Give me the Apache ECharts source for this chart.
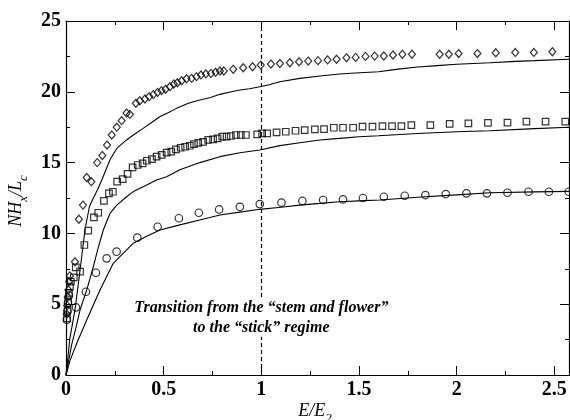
<!DOCTYPE html>
<html>
<head>
<meta charset="utf-8">
<script src="https://cdn.jsdelivr.net/npm/echarts@6/dist/echarts.min.js"></script>
<style>
  html, body { margin: 0; padding: 0; background: #fff; }
  #chart { width: 570px; height: 420px; }
</style>
</head>
<body>
<div id="chart"></div>
<script>
// axis ranges / ticks
const xMin = 0, xMax = 2.575, xStep = 0.5;
const yMin = 0, yMax = 25, yStep = 5;

// open diamonds (upper data set)
const diamonds = [
  [0.004, 4.3], [0.006, 4.9], [0.009, 5.5], [0.012, 6.0], [0.016, 6.6], [0.02, 7.0],
  [0.046, 8.0], [0.066, 11.0], [0.087, 12.0], [0.106, 13.95], [0.13, 13.65],
  [0.16, 15.0], [0.186, 15.5], [0.21, 16.24], [0.234, 16.95], [0.26, 17.5],
  [0.285, 17.96], [0.31, 18.5], [0.327, 18.4], [0.358, 19.19], [0.378, 19.37],
  [0.404, 19.49], [0.426, 19.66], [0.447, 19.8], [0.469, 19.96], [0.489, 20.08],
  [0.51, 20.18], [0.532, 20.36], [0.552, 20.55], [0.57, 20.64], [0.592, 20.78],
  [0.617, 20.92], [0.643, 20.95], [0.668, 21.07], [0.691, 21.19], [0.716, 21.26],
  [0.742, 21.3], [0.766, 21.38], [0.788, 21.47], [0.808, 21.47], [0.856, 21.59],
  [0.907, 21.7], [0.955, 21.77], [0.997, 21.89], [1.049, 21.96], [1.095, 22.0],
  [1.146, 22.05], [1.193, 22.12], [1.24, 22.17], [1.29, 22.2], [1.339, 22.25],
  [1.385, 22.3], [1.436, 22.4], [1.483, 22.43], [1.533, 22.5], [1.58, 22.52],
  [1.627, 22.53], [1.674, 22.6], [1.722, 22.65], [1.771, 22.65], [1.913, 22.65],
  [1.96, 22.65], [2.01, 22.7], [2.106, 22.7], [2.2, 22.76], [2.3, 22.78],
  [2.395, 22.78], [2.49, 22.83]
];

// open squares (middle data set)
const squares = [
  [0.005, 4.0], [0.008, 4.6], [0.011, 5.2], [0.015, 5.8], [0.02, 6.24], [0.025, 6.6],
  [0.04, 6.9], [0.05, 7.6], [0.072, 7.3], [0.094, 9.18], [0.114, 10.19],
  [0.143, 11.13], [0.165, 11.46], [0.194, 12.29], [0.22, 12.83], [0.24, 12.94],
  [0.262, 13.65], [0.29, 13.84], [0.315, 14.2], [0.341, 14.66], [0.367, 14.83],
  [0.392, 14.95], [0.414, 15.13], [0.44, 15.25], [0.464, 15.42], [0.49, 15.54],
  [0.515, 15.7], [0.539, 15.77], [0.563, 15.94], [0.587, 16.05], [0.61, 16.12],
  [0.634, 16.19], [0.655, 16.31], [0.677, 16.4], [0.702, 16.47], [0.728, 16.6],
  [0.753, 16.64], [0.776, 16.71], [0.8, 16.83], [0.822, 16.83], [0.844, 16.88],
  [0.87, 16.95], [0.895, 16.95], [0.921, 16.95], [0.979, 17.0], [1.004, 17.07],
  [1.03, 17.07], [1.078, 17.14], [1.125, 17.18], [1.175, 17.25], [1.222, 17.3],
  [1.274, 17.35], [1.321, 17.37], [1.371, 17.46], [1.418, 17.46], [1.47, 17.46],
  [1.518, 17.54], [1.569, 17.54], [1.62, 17.58], [1.669, 17.58], [1.717, 17.58],
  [1.768, 17.65], [1.865, 17.65], [1.964, 17.73], [2.06, 17.77], [2.16, 17.8],
  [2.26, 17.83], [2.357, 17.89], [2.455, 17.89], [2.556, 17.89]
];

// open circles (lower data set)
const circles = [
  [0.004, 3.9], [0.007, 4.5], [0.01, 5.1], [0.015, 5.6],
  [0.051, 4.78], [0.102, 5.88], [0.153, 7.22], [0.208, 8.24], [0.259, 8.71],
  [0.365, 9.7], [0.469, 10.47], [0.578, 11.07], [0.68, 11.46], [0.784, 11.69],
  [0.89, 11.88], [0.992, 12.07], [1.103, 12.17], [1.21, 12.29], [1.316, 12.36],
  [1.418, 12.4], [1.52, 12.5], [1.627, 12.59], [1.734, 12.66], [1.84, 12.71],
  [1.944, 12.78], [2.05, 12.83], [2.155, 12.83], [2.26, 12.87], [2.368, 12.94],
  [2.472, 12.94], [2.574, 12.94]
];

// solid curves (theory)
const curveUpper = [
  [0, 0], [0.02, 2.6], [0.046, 4.6], [0.072, 7.4], [0.097, 10.24], [0.12, 11.9],
  [0.14, 12.5], [0.162, 13.1], [0.187, 13.9], [0.225, 15.2], [0.26, 16.0],
  [0.31, 16.6], [0.35, 17.0], [0.395, 17.42], [0.44, 17.85], [0.48, 18.24],
  [0.52, 18.5], [0.566, 18.83], [0.626, 19.19], [0.685, 19.42], [0.74, 19.6],
  [0.788, 19.82], [0.84, 19.98], [0.89, 20.13], [0.94, 20.22], [0.992, 20.36],
  [1.04, 20.5], [1.095, 20.71], [1.197, 20.95], [1.3, 21.12], [1.4, 21.26],
  [1.504, 21.35], [1.6, 21.42], [1.7, 21.6], [1.8, 21.75], [1.9, 21.85],
  [2.0, 21.95], [2.17, 22.05], [2.3, 22.15], [2.4, 22.2], [2.575, 22.3]
];
const curveMiddle = [
  [0, 0], [0.03, 2.2], [0.05, 3.3], [0.072, 4.6], [0.106, 6.0], [0.14, 7.65],
  [0.165, 9.0], [0.191, 10.24], [0.225, 11.41], [0.26, 12.0], [0.31, 12.59],
  [0.35, 13.0], [0.395, 13.3], [0.464, 13.77], [0.515, 14.0], [0.583, 14.5],
  [0.685, 15.0], [0.788, 15.42], [0.89, 15.7], [0.992, 15.89], [1.095, 16.2],
  [1.197, 16.4], [1.3, 16.6], [1.4, 16.71], [1.5, 16.83], [1.6, 16.9],
  [1.8, 17.05], [2.0, 17.18], [2.17, 17.25], [2.4, 17.4], [2.575, 17.5]
];
const curveLower = [
  [0, 0], [0.02, 1.0], [0.055, 2.24], [0.106, 3.88], [0.174, 6.0], [0.242, 7.89],
  [0.276, 8.36], [0.344, 9.3], [0.413, 9.8], [0.481, 10.24], [0.583, 10.6],
  [0.685, 10.95], [0.788, 11.3], [0.89, 11.5], [0.992, 11.7], [1.1, 11.85],
  [1.197, 12.0], [1.3, 12.12], [1.4, 12.24], [1.5, 12.3], [1.606, 12.36],
  [1.8, 12.55], [2.0, 12.72], [2.17, 12.87], [2.4, 12.93], [2.575, 12.97]
];

// dashed marker of the transition and its caption
const transitionX = 1;
const dashGap = [2.7, 5.5];
const captionLines = ['Transition from the \u201cstem and flower\u201d', 'to the \u201cstick\u201d regime'];
const captionY = [4.73, 3.32];

const SERIF = '"Liberation Serif", "DejaVu Serif", "Times New Roman", serif';

const chart = echarts.init(document.getElementById('chart'));

function axisBase(show, showMax) {
  return {
    axisLine: { show: true, onZero: false, lineStyle: { color: '#000', width: 1.2 } },
    axisTick: { show: true, inside: true, length: 9, lineStyle: { color: '#000', width: 1 } },
    minorTick: { show: true, splitNumber: 2, length: 4, lineStyle: { color: '#000', width: 1 } },
    splitLine: { show: false },
    axisLabel: {
      show: show, color: '#000', fontFamily: SERIF, fontWeight: 'bold', fontSize: 20,
      margin: 5, showMaxLabel: showMax
    }
  };
}

const marker = { color: 'rgba(0,0,0,0)', borderColor: '#000', borderWidth: 1.2 };
const curveStyle = { color: '#000', width: 1.1 };

const option = {
  animation: false,
  backgroundColor: '#fff',
  grid: { left: 66, top: 21, width: 503, height: 354 },
  xAxis: [
    Object.assign({ type: 'value', min: xMin, max: xMax, interval: xStep, position: 'bottom' }, axisBase(true, false)),
    Object.assign({ type: 'value', min: xMin, max: xMax, interval: xStep, position: 'top' }, axisBase(false, false))
  ],
  yAxis: [
    Object.assign({ type: 'value', min: yMin, max: yMax, interval: yStep, position: 'left' }, axisBase(true, true)),
    Object.assign({ type: 'value', min: yMin, max: yMax, interval: yStep, position: 'right' }, axisBase(false, true))
  ],
  series: [
    { type: 'line', data: curveUpper, showSymbol: false, lineStyle: curveStyle, z: 2,
      markLine: {
        silent: true, symbol: 'none', label: { show: false },
        lineStyle: { color: '#000', width: 1.2, type: [4, 3] },
        data: [
          [{ coord: [transitionX, yMin] }, { coord: [transitionX, dashGap[0]] }],
          [{ coord: [transitionX, dashGap[1]] }, { coord: [transitionX, yMax] }]
        ]
      }
    },
    { type: 'line', data: curveMiddle, showSymbol: false, lineStyle: curveStyle, z: 2 },
    { type: 'line', data: curveLower, showSymbol: false, lineStyle: curveStyle, z: 2 },
    { type: 'scatter', data: diamonds, symbol: 'diamond', symbolSize: [7, 8], itemStyle: marker, z: 3 },
    { type: 'scatter', data: squares, symbol: 'rect', symbolSize: 6.5, itemStyle: marker, z: 3 },
    { type: 'scatter', data: circles, symbol: 'circle', symbolSize: 7.5, itemStyle: marker, z: 3 }
  ]
};
chart.setOption(option);

// build italic axis names with subscripts
const ctx = document.createElement('canvas').getContext('2d');
function fontStr(size) { return 'italic ' + size + 'px ' + SERIF; }
function runGroup(parts, x, y, rotation) {
  let w = 0;
  parts.forEach(p => { ctx.font = fontStr(p.size); p.w = ctx.measureText(p.t).width; w += p.w; });
  let cx = -w / 2;
  const children = parts.map(p => {
    const el = {
      type: 'text', x: cx, y: p.dy || 0,
      style: { text: p.t, font: fontStr(p.size), fill: '#000', align: 'left', verticalAlign: 'bottom' }
    };
    cx += p.w;
    return el;
  });
  return { type: 'group', x: x, y: y, rotation: rotation, children: children };
}

const yName = runGroup([
  { t: 'NH', size: 18 }, { t: 'x', size: 13, dy: 5 }, { t: '/L', size: 18 }, { t: 'c', size: 13, dy: 5 }
], 25, 201, Math.PI / 2);
const xName = runGroup([
  { t: 'E/E', size: 18 }, { t: '2', size: 13, dy: 5 }
], 315, 420, 0);

const captions = captionLines.map((txt, i) => {
  const p = chart.convertToPixel({ gridIndex: 0 }, [transitionX, captionY[i]]);
  return {
    type: 'text', x: p[0], y: p[1],
    style: {
      text: txt, fill: '#000', align: 'center', verticalAlign: 'middle',
      font: 'italic bold 16px ' + SERIF
    }
  };
});

chart.setOption({ graphic: [yName, xName].concat(captions) });
</script>
</body>
</html>
